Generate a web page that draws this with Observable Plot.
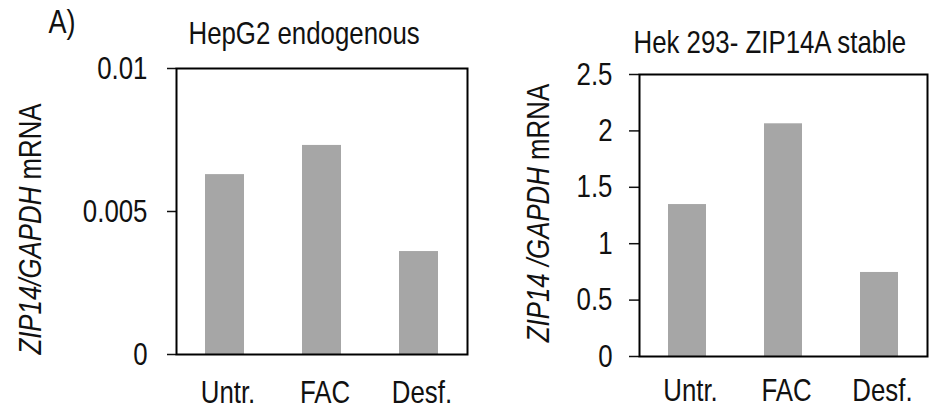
<!DOCTYPE html>
<html>
<head>
<meta charset="utf-8">
<script src="https://cdn.jsdelivr.net/npm/d3@7"></script>
<script src="https://cdn.jsdelivr.net/npm/@observablehq/plot@0.6"></script>
<style>
  html, body { margin: 0; padding: 0; background: #fff; }
  #wrap { position: relative; width: 930px; height: 410px; overflow: hidden; font-family: "Liberation Sans", Arial, sans-serif; }
  #wrap svg { position: absolute; top: 0; }
</style>
</head>
<body>
<div id="wrap"></div>
<script>
const categories = ["Untr.", "FAC", "Desf."];

const hepg2Title = "HepG2 endogenous";
const hepg2Values = [0.00629, 0.00731, 0.0036];
const hepg2Ticks = [0, 0.005, 0.01];
const hepg2TickLabels = ["0", "0.005", "0.01"];
const hepg2YLabel = [["ZIP14/GAPDH", true], [" mRNA", false]];

const hekTitle = "Hek 293- ZIP14A stable";
const hekValues = [1.347, 2.063, 0.745];
const hekTicks = [0, 0.5, 1, 1.5, 2, 2.5];
const hekTickLabels = ["0", "0.5", "1", "1.5", "2", "2.5"];
const hekYLabel = [["ZIP14 /GAPDH", true], [" mRNA", false]];

const panelLetter = "A)";

const wrap = document.getElementById("wrap");
const FONT = "Liberation Sans, Arial, sans-serif";
const FS = 31.5;
const NARROW = 0.82; // Arial-Narrow-like horizontal compression

function panel(opts) {
  const data = categories.map((c, i) => ({cat: c, v: opts.values[i]}));
  const marks = [
    Plot.barY(data, {x: "cat", y: "v", fill: "#a6a6a6", insetLeft: opts.inset, insetRight: opts.inset}),
    Plot.axisY({ticks: opts.ticks, tickFormat: d => opts.tickLabels[opts.ticks.indexOf(d)],
      tickSize: opts.tickSize, tickPadding: opts.tickPadding, label: null, fontSize: FS, strokeWidth: 1.5}),
    Plot.axisX({tickSize: 0, tickPadding: opts.xPad, label: null, fontSize: FS, dx: 3}),
    Plot.frame({stroke: "black", strokeWidth: 2}),
    Plot.text([opts.title], {text: d => d, frameAnchor: "top-left", textAnchor: "start", lineAnchor: "bottom",
      dx: opts.titleDx, dy: opts.titleDy, fontSize: FS, fill: "#111"})
  ];
  if (opts.letter) {
    marks.push(Plot.text([opts.letter], {text: d => d, frameAnchor: "top-left", textAnchor: "start", lineAnchor: "bottom",
      dx: -128, dy: -36, fontSize: 33, fill: "#111"}));
  }
  const svg = Plot.plot({
    width: opts.width, height: 410,
    marginLeft: opts.ml, marginRight: opts.mr, marginTop: opts.mt, marginBottom: opts.mb,
    x: {type: "band", domain: categories, padding: 0},
    y: {domain: [opts.ticks[0], opts.ticks[opts.ticks.length - 1]]},
    style: {fontFamily: FONT, fontSize: FS + "px", color: "#111", background: "transparent", overflow: "visible"},
    marks
  });
  svg.style.left = opts.left + "px";
  const t = d3.select(svg).append("text")
    .attr("transform", `translate(${opts.labelX},${opts.labelY}) rotate(-90)`)
    .attr("text-anchor", "middle")
    .attr("font-family", FONT)
    .attr("font-size", FS)
    .attr("fill", "#111");
  opts.yLabel.forEach(([s, it]) => t.append("tspan").attr("font-style", it ? "italic" : "normal").text(s));
  wrap.appendChild(svg);
  // compress every text along its reading direction (Arial Narrow look), about its anchor
  svg.querySelectorAll("text").forEach(el => {
    const anchor = getComputedStyle(el).textAnchor;
    const rotated = (el.getAttribute("transform") || "").includes("rotate");
    const g = document.createElementNS("http://www.w3.org/2000/svg", "g");
    el.parentNode.insertBefore(g, el);
    g.appendChild(el);
    g.style.transformBox = "fill-box";
    if (rotated) {
      g.style.transformOrigin = "center";
      g.style.transform = `scaleY(${NARROW})`;
    } else {
      g.style.transformOrigin = anchor === "start" ? "left center" : anchor === "end" ? "right center" : "center";
      g.style.transform = `scaleX(${NARROW})`;
    }
  });
}

panel({
  left: 0, width: 480, ml: 176, mr: 13, mt: 68, mb: 56,
  values: hepg2Values, ticks: hepg2Ticks, tickLabels: hepg2TickLabels,
  tickSize: 9, tickPadding: 20, xPad: 26, inset: 29,
  title: hepg2Title, titleDx: 12, titleDy: -25, letter: panelLetter,
  yLabel: hepg2YLabel, labelX: 41, labelY: 229
});

panel({
  left: 480, width: 450, ml: 159, mr: 3, mt: 74, mb: 54,
  values: hekValues, ticks: hekTicks, tickLabels: hekTickLabels,
  tickSize: 10, tickPadding: 17, xPad: 22, inset: 29,
  title: hekTitle, titleDx: -6, titleDy: -22, letter: null,
  yLabel: hekYLabel, labelX: 69, labelY: 213
});
</script>
</body>
</html>
